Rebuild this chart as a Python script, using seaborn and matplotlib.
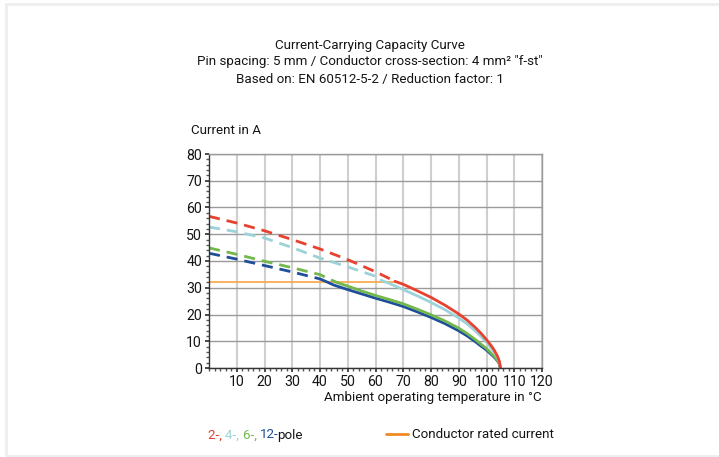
import numpy as np
import pandas as pd
import matplotlib
matplotlib.use('Agg')
import matplotlib.pyplot as plt
import seaborn as sns
from matplotlib.patches import Rectangle
from matplotlib.ticker import MultipleLocator

# Data
temp_2 = [0, 10, 20, 30, 40, 50, 60, 67, 70, 75, 80, 85, 90, 93, 96, 98, 100, 102, 103, 104, 104.7, 105]
amp_2 = [56.7, 54.2, 51.3, 48.0, 44.5, 40.5, 36.0, 32.4, 31.3, 28.9, 26.4, 23.5, 20.2, 17.9, 15.1, 13.0, 10.6, 7.9, 6.3, 4.3, 2.3, 0]
temp_4 = [0, 10, 20, 30, 40, 50, 60, 62, 65, 70, 75, 80, 85, 90, 93, 96, 98, 100, 102, 103, 104, 104.7, 105]
amp_4 = [52.7, 50.9, 48.6, 45.0, 41.1, 37.8, 34.3, 32.8, 31.6, 29.3, 27.0, 24.5, 21.8, 18.7, 16.5, 13.8, 11.8, 9.6, 7.0, 5.6, 3.8, 2.0, 0]
temp_6 = [0, 10, 20, 30, 40, 46, 50, 55, 60, 65, 70, 75, 80, 85, 90, 93, 96, 98, 100, 102, 103, 104, 104.7, 105]
amp_6 = [44.9, 42.5, 39.9, 37.5, 34.9, 32.0, 30.6, 28.8, 27.1, 25.6, 24.0, 22.0, 19.9, 17.6, 14.9, 12.9, 10.6, 8.9, 7.3, 5.2, 4.1, 2.8, 1.5, 0]
temp_12 = [0, 10, 20, 30, 40, 42, 45, 50, 55, 60, 65, 70, 75, 80, 85, 90, 93, 96, 98, 100, 102, 103, 104, 104.7, 105]
amp_12 = [42.9, 40.7, 38.3, 35.9, 33.3, 32.4, 31.0, 29.3, 27.7, 26.1, 24.6, 23.0, 21.0, 18.9, 16.6, 13.9, 12.0, 9.8, 8.2, 6.7, 4.8, 3.8, 2.6, 1.4, 0]
split_temp = {'2': 67, '4': 62, '6': 46, '12': 42}
rated_current = 32
rated_end = 67

colors = {'2': '#e8412f', '4': '#9bd3d8', '6': '#72b84c', '12': '#1f4e9a'}
orange = '#f7a543'
ink = '#151515'

curves = {'2': (temp_2, amp_2), '4': (temp_4, amp_4),
          '6': (temp_6, amp_6), '12': (temp_12, amp_12)}

sns.set_theme(style='white')
plt.rcParams['font.family'] = ['Roboto', 'DejaVu Sans']
FS = 9.6

fig = plt.figure(figsize=(7.19, 4.57), dpi=100)
ax = fig.add_axes([209 / 719, 1 - 368 / 457, 333 / 719, 214 / 457])

sns.lineplot(x=[0, rated_end], y=[rated_current, rated_current], ax=ax,
             color=orange, linewidth=1.2)

for key in ['12', '6', '4', '2']:
    t, a = curves[key]
    df = pd.DataFrame({'t': t, 'a': a})
    s = split_temp[key]
    dashed = df[df.t <= s]
    solid = df[df.t >= s]
    sns.lineplot(data=dashed, x='t', y='a', ax=ax, color=colors[key],
                 linewidth=2.0, linestyle=(0, (4, 2.5)))
    sns.lineplot(data=solid, x='t', y='a', ax=ax, color=colors[key],
                 linewidth=2.0)

ax.set_xlim(0, 120)
ax.set_ylim(0, 80)
ax.set_xticks(range(10, 121, 10))
ax.set_yticks(range(0, 81, 10))
ax.xaxis.set_minor_locator(MultipleLocator(2))
ax.yaxis.set_minor_locator(MultipleLocator(2))
ax.tick_params(axis='both', which='major', labelsize=FS + 0.6, length=3,
               color='#333333', pad=2, direction='out', labelcolor=ink)
ax.tick_params(axis='both', which='minor', length=2, color='#555555',
               direction='out')
ax.tick_params(bottom=True, left=True, which='both')
ax.xaxis.grid(True, color='#cfcfcf', linewidth=1.5)
ax.yaxis.grid(True, color='#9a9a9a', linewidth=1.0)
ax.set_axisbelow(True)
for side in ['top', 'right']:
    ax.spines[side].set_color('#9a9a9a')
    ax.spines[side].set_linewidth(1.0)
for side in ['left', 'bottom']:
    ax.spines[side].set_color('#333333')
    ax.spines[side].set_linewidth(1.0)
ax.set_xlabel('')
ax.set_ylabel('')

# Titles and labels
fig.text(370 / 719, 1 - 45 / 457, 'Current-Carrying Capacity Curve',
         ha='center', va='center', fontsize=FS, color=ink)
fig.text(370 / 719, 1 - 62 / 457,
         'Pin spacing: 5 mm / Conductor cross-section: 4 mm² "f-st"',
         ha='center', va='center', fontsize=FS, color=ink)
fig.text(370 / 719, 1 - 79 / 457,
         'Based on: EN 60512-5-2 / Reduction factor: 1',
         ha='center', va='center', fontsize=FS, color=ink)
fig.text(191 / 719, 1 - 131 / 457, 'Current in A', ha='left', va='center',
         fontsize=FS, color=ink)
fig.text(542 / 719, 1 - 397 / 457, 'Ambient operating temperature in °C',
         ha='right', va='center', fontsize=FS, color=ink)

# Legend row
x0 = 208
parts = [('2-, ', colors['2']), ('4-, ', colors['4']),
         ('6-, ', colors['6']), ('12-', colors['12']), ('pole', ink)]
renderer = fig.canvas.get_renderer()
for txt, col in parts:
    t = fig.text(x0 / 719, 1 - 435 / 457, txt, ha='left', va='center',
                 fontsize=FS, color=col)
    bb = t.get_window_extent(renderer=renderer)
    x0 += bb.width - (1.5 if txt.endswith('-') else 0)
fig.add_artist(plt.Line2D([386 / 719, 408 / 719], [1 - 434 / 457, 1 - 434 / 457],
                          color='#f08a24', linewidth=2.0))
fig.text(412 / 719, 1 - 435 / 457, 'Conductor rated current', ha='left',
         va='center', fontsize=FS, color=ink)

# Light frame
fig.add_artist(Rectangle((6 / 719, 1 / 457), 716 / 719, 452 / 457,
                         transform=fig.transFigure, fill=False,
                         edgecolor='#eeeeee', linewidth=2.0))

fig.savefig('out.png', dpi=100)
